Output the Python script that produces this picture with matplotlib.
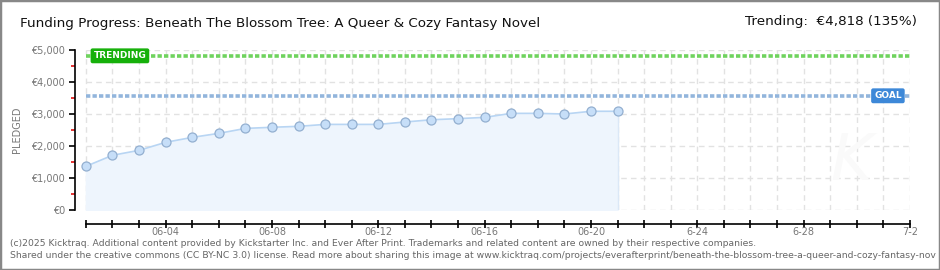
import datetime as dt
import matplotlib
matplotlib.use('Agg')
import matplotlib.pyplot as plt
import matplotlib.dates as mdates
from matplotlib.ticker import FixedLocator, FuncFormatter
from matplotlib.patches import Rectangle

# data
start = dt.date(2025, 6, 1)
end = dt.date(2025, 7, 2)
pledged = [1365, 1710, 1865, 2115, 2270, 2395, 2550, 2585, 2615, 2675, 2675,
           2675, 2750, 2820, 2855, 2895, 3020, 3020, 3000, 3085, 3085]
days = [start + dt.timedelta(days=i) for i in range(len(pledged))]
goal = 3569
trending = 4818
trend_pct = 135
y_ticks = [0, 1000, 2000, 3000, 4000, 5000]

title = 'Funding Progress: Beneath The Blossom Tree: A Queer & Cozy Fantasy Novel'
footer1 = ('(c)2025 Kicktraq. Additional content provided by Kickstarter Inc. and Ever After Print. '
           'Trademarks and related content are owned by their respective companies.')
footer2 = ('Shared under the creative commons (CC BY-NC 3.0) license. Read more about sharing this image at '
           'www.kicktraq.com/projects/everafterprint/beneath-the-blossom-tree-a-queer-and-cozy-fantasy-nov')

W, H = 940, 270
fig = plt.figure(figsize=(W / 100, H / 100), dpi=100)
fig.patch.set_facecolor('white')

# axes box in pixels: y-axis line at x=75, last day at x=910, y 0 at 210, 5000 at 50
ax = fig.add_axes([75 / W, (H - 210) / H, (910 - 75) / W, 160 / H])

all_days = [start + dt.timedelta(days=i) for i in range((end - start).days + 1)]
x0 = mdates.date2num(start)
x_lo = x0 - 0.41
x_hi = mdates.date2num(end)
ax.set_xlim(x_lo, x_hi)
ax.set_ylim(0, 5000)

# grid
for d in all_days:
    ax.plot([d, d], [0, 5000], color='#e2e2e2', lw=1, ls=(0, (4, 3)), zorder=0)
for v in y_ticks:
    ax.plot([start, end], [v, v], color='#e2e2e2', lw=1, ls=(0, (4, 3)), zorder=0)

# watermark
ax.text(x_hi - 2.2, 1500, 'K', fontsize=46, style='italic',
        color='#fafafa', ha='center', va='center', zorder=0)

# fill + line + markers
ax.fill_between(days, pledged, 0, color='#eef5fd', zorder=1)
ax.plot([days[-1], days[-1]], [0, pledged[-1]], color='#dbe8f7', lw=1, zorder=1)
ax.plot(days, pledged, color='#b8d5f3', lw=1.2, zorder=2)
ax.plot(days, pledged, ls='none', marker='o', ms=6.5, mfc='#c6def8', mec='#93afd0',
        mew=0.9, zorder=3)

# trending and goal lines
ax.plot([start, end], [trending, trending], color='#6fd35e', lw=2.6,
        ls=(0, (1.2, 0.6)), zorder=2)
ax.plot([start, end], [goal, goal], color='#92b5dc', lw=2.6,
        ls=(0, (1.2, 0.6)), zorder=2)

ax.text(x0 + 1.28, trending, 'TRENDING', color='white', fontsize=6.5,
        fontweight='bold', ha='center', va='center', zorder=5,
        bbox=dict(boxstyle='round,pad=0.25,rounding_size=0.15', fc='#16b00a', ec='#16b00a'))
ax.text(x_hi - 0.83, goal, 'GOAL', color='white', fontsize=6.5,
        fontweight='bold', ha='center', va='center', zorder=5,
        bbox=dict(boxstyle='round,pad=0.25,rounding_size=0.15', fc='#3d88d8', ec='#3d88d8'))

# axes styling
for s in ['top', 'right']:
    ax.spines[s].set_visible(False)
ax.spines['left'].set_bounds(0, 5000)
ax.spines['left'].set_linewidth(1.2)
ax.spines['bottom'].set_position(('outward', 10))
ax.spines['bottom'].set_bounds(x0, x_hi)
ax.spines['bottom'].set_linewidth(1.2)

ax.yaxis.set_major_locator(FixedLocator(y_ticks))
ax.yaxis.set_major_formatter(FuncFormatter(lambda v, p: '€{:,.0f}'.format(v)))
ax.yaxis.set_minor_locator(FixedLocator([500, 1500, 2500, 3500, 4500]))
ax.tick_params(axis='y', which='major', length=4, width=1.2, color='black',
               labelsize=7, labelcolor='#777777', pad=3)
ax.tick_params(axis='y', which='minor', length=3, width=1.2, color='#e01010')

last_day = days[-1]


def day_label(v, p):
    d = mdates.num2date(v).date()
    if (d - start).days % 4 != 3:
        return ''
    if d <= last_day:
        return d.strftime('%m-%d')
    return '{}-{}'.format(d.month, d.day)


ax.xaxis.set_major_locator(FixedLocator([mdates.date2num(d) for d in all_days]))
ax.xaxis.set_major_formatter(FuncFormatter(day_label))
ax.tick_params(axis='x', which='major', direction='inout', length=6, width=1.2,
               labelsize=7, labelcolor='#777777', pad=-1)

ax.set_ylabel('PLEDGED', fontsize=7, color='#777777')
ax.yaxis.set_label_coords(-0.063, 0.5)

# titles and footer
fig.text(20 / W, 1 - 24 / H, title, fontsize=9.7,
         color='#111111', ha='left', va='center')
fig.text(917 / W, 1 - 22 / H, 'Trending:  €{:,} ({}%)'.format(trending, trend_pct), fontsize=9.7,
         color='#111111', ha='right', va='center')
fig.text(10 / W, 1 - 243 / H, footer1, fontsize=6.7, color='#666666', ha='left', va='center')
fig.text(10 / W, 1 - 256 / H, footer2, fontsize=6.7, color='#666666', ha='left', va='center')

fig.patches.append(Rectangle((0, 0), 1, 1, transform=fig.transFigure, fill=False,
                             ec='#888888', lw=2.5))

fig.savefig('out.png', dpi=100)
